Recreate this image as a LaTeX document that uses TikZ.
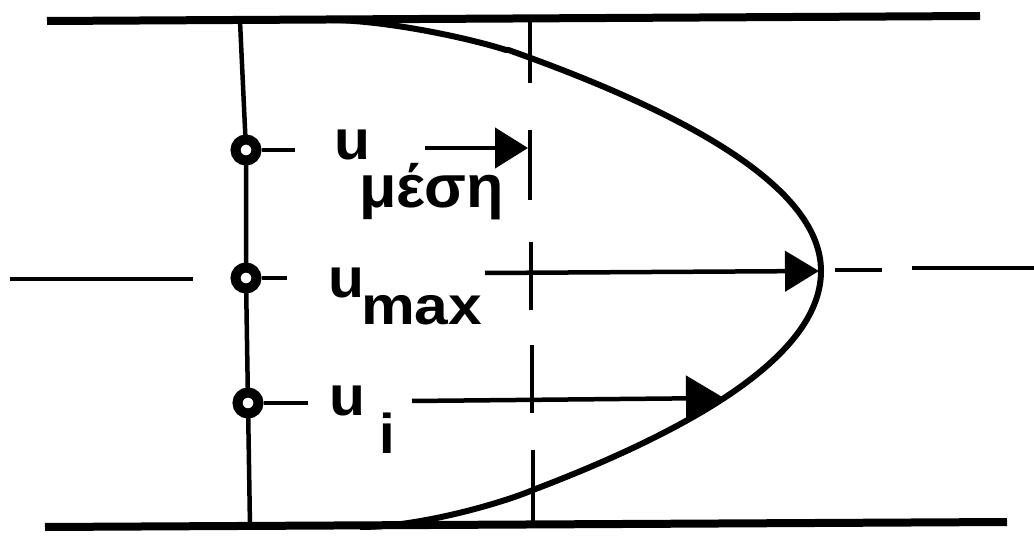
\documentclass[tikz,border=0pt]{standalone}
\usepackage{fontspec}
\setmainfont{Liberation Sans}
\usetikzlibrary{arrows.meta}
\newcommand{\widetxt}[2][1.1]{\scalebox{#1}[1]{#2}}
\begin{document}
\begin{tikzpicture}[x=1pt,y=-1pt,
  wall/.style={line width=8pt},
  thinline/.style={line width=4.5pt},
  profile/.style={line width=6pt,line join=round},
  vel/.style={line width=4.5pt},
  ring/.style={circle,draw,line width=10pt,minimum size=21pt,inner sep=0pt,fill=white},
  lbl/.style={inner sep=0pt,anchor=base west,font=\fontsize{56}{60}\selectfont\bfseries}]
\useasboundingbox (0,0) rectangle (1034,537);
% walls
\coordinate (tw1) at (47,21); \coordinate (tw2) at (980,16);
\coordinate (bw1) at (45,527); \coordinate (bw2) at (1007,522);
\draw[wall] (tw1) -- (tw2);
\draw[wall] (bw1) -- (bw2);
% centre line
\draw[thinline] (10,279) -- (193,279);
\draw[thinline] (835,270) -- (882,270);
\draw[thinline] (912,268) -- (1034,268);
% vertical dashed section line
\draw[thinline] (530,21) -- (530,83);
\draw[thinline] (530,130) -- (530,200);
\draw[thinline] (531,242) -- (531,310);
\draw[thinline] (532,345) -- (532,413);
\draw[thinline] (533,450) -- (533,525);
% left measuring line
\coordinate (lt) at (240,21); \coordinate (lb) at (250,527);
\draw[thinline] (lt) -- (246,150) -- (246,278) -- (248,403) -- (lb);
% velocity profile
\draw[profile] (330,20) .. controls (380,20) and (462,36) .. (506,50)
  -- plot[domain=50:271,samples=60] ({821-(0.08*(\x-271))^2},\x)
  -- plot[domain=271:490,samples=60] ({821-(0.0775*(\x-271))^2},\x)
  .. controls (502,503) and (420,527) .. (360,527);
% measuring points
\node[ring] (c1) at (246,150) {};
\node[ring] (c2) at (246,278) {};
\node[ring] (c3) at (248,403) {};
\coordinate (t1) at (295,150); \coordinate (t2) at (287,278); \coordinate (t3) at (308,403);
\draw[thinline] (c1.east) -- (t1);
\draw[thinline] (c2.east) -- (t2);
\draw[thinline] (c3.east) -- (t3);
% arrows
\coordinate (a1s) at (425,148); \coordinate (a1e) at (528,148);
\coordinate (a2s) at (485,273); \coordinate (a2e) at (819,271);
\coordinate (a3s) at (412,401); \coordinate (a3e) at (724,398);
\draw[vel,-{Triangle[length=33pt,width=40pt]}] (a1s) -- (a1e);
\draw[vel,-{Triangle[length=34pt,width=40pt]}] (a2s) -- (a2e);
\draw[vel,-{Triangle[length=38pt,width=45pt]}] (a3s) -- (a3e);
% labels
\node[lbl] (u1) at (334,160) {\widetxt[1.05]{u}};
\node[lbl,font=\fontsize{60}{64}\selectfont\bfseries] (s1) at (359,208) {\widetxt[1.02]{μέση}};
\node[lbl] (u2) at (328,298) {\widetxt[1.05]{u}};
\node[lbl,font=\fontsize{54}{60}\selectfont\bfseries] (s2) at (361,325) {\widetxt[1.12]{max}};
\node[lbl] (u3) at (329,415) {\widetxt[1.05]{u}};
\node[lbl] (s3) at (379,453) {i};
\end{tikzpicture}
\end{document}
